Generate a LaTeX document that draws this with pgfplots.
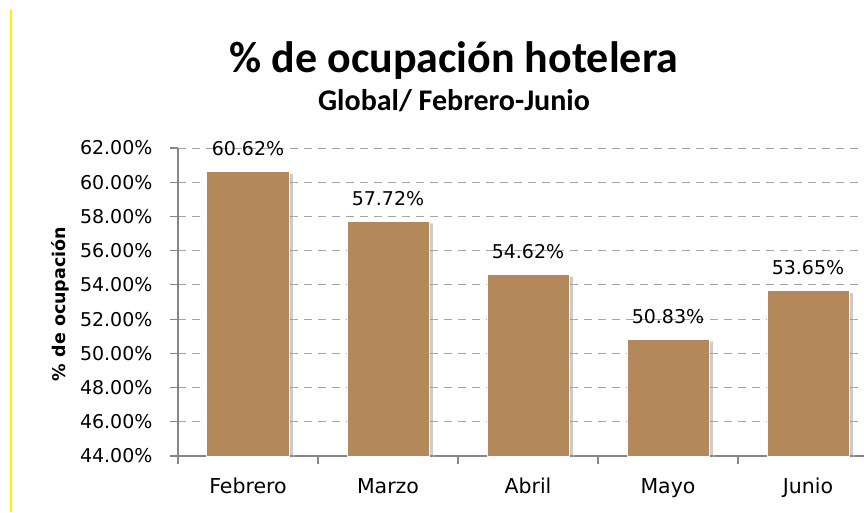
\documentclass[border=0pt]{standalone}
\usepackage{fontspec}
\setmainfont{Carlito}
\newfontfamily\vfont{DejaVu Sans}
\usepackage{pgfplots}
\pgfplotsset{compat=1.18}
\usetikzlibrary{shadows}
\definecolor{barc}{RGB}{179,136,90}
\definecolor{axc}{RGB}{134,134,134}
\definecolor{gridc}{RGB}{165,165,165}
\begin{document}
\begin{tikzpicture}[x=1pt,y=1pt]
\path[use as bounding box] (-178,-56) rectangle (686,456);
\begin{axis}[
  at={(0,0)}, anchor=south west, scale only axis,
  width=686pt, height=308pt,
  xmin=-0.5, xmax=4.4, ymin=44, ymax=62,
  ytick={44,46,...,62},
  axis x line=bottom, axis y line=left,
  axis line style={-, draw=axc, line width=1.2pt},
  xtick={0,...,4}, xticklabels={Febrero,Marzo,Abril,Mayo,Junio},
  major x tick style={draw=none},
  minor xtick={-0.5,0.5,1.5,2.5,3.5},
  minor x tick style={draw=axc, line width=1.2pt},
  major y tick style={draw=axc, line width=1.2pt},
  tick align=outside, major tick length=8pt, minor tick length=8pt,
  ymajorgrids, major grid style={draw=gridc, line width=0.9pt, dash pattern=on 8pt off 6pt},
  /pgf/number format/assume math mode=true,
  yticklabel={\pgfmathprintnumber[fixed,fixed zerofill,precision=2]{\tick}\%},
  yticklabel style={font=\vfont\fontsize{19}{21}\selectfont, xshift=-14pt},
  xticklabel style={font=\vfont\fontsize{20.5}{22}\selectfont, text height=15pt, text depth=4pt, yshift=-11pt},
  clip mode=individual,
]
\addplot[ybar, bar width=82pt, fill=barc, draw=white, line width=1pt,
  drop shadow={shadow xshift=4pt, shadow yshift=-2pt, opacity=0.4},
  point meta=y,
  nodes near coords={\pgfmathprintnumber[fixed,fixed zerofill,precision=2]{\pgfplotspointmeta}\%},
  nodes near coords style={font=\vfont\fontsize{19}{21}\selectfont, text=black, yshift=12pt}]
  coordinates {(0,60.62) (1,57.72) (2,54.62) (3,50.83) (4,53.65)};
\end{axis}
\node[font=\fontsize{44}{52}\selectfont\bfseries] at (276,395) {\% de ocupación hotelera};
\node[font=\fontsize{30}{36}\selectfont\bfseries] at (276,355) {Global/ Febrero-Junio};
\node[font=\vfont\fontsize{17.5}{20}\selectfont\bfseries, rotate=90] at (-118,152) {\% de ocupación};
\draw[yellow, line width=1.5pt] (-167,447) -- (-167,-56);
\end{tikzpicture}
\end{document}
